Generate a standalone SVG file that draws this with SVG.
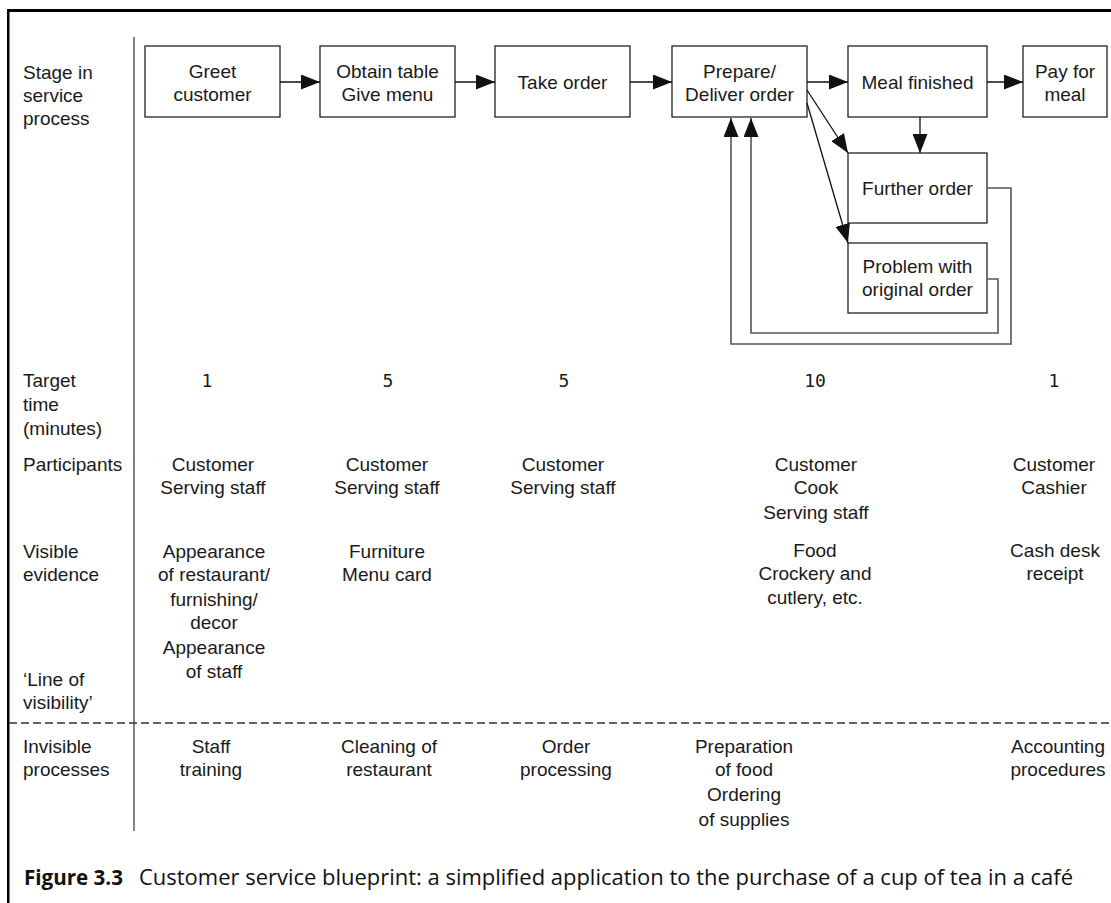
<svg xmlns="http://www.w3.org/2000/svg" width="1111" height="903" viewBox="0 0 1111 903">
  <defs>
    <marker id="head" markerUnits="userSpaceOnUse" markerWidth="19" markerHeight="15" refX="19" refY="7.5" orient="auto">
      <path d="M0,0 L19,7.5 L0,15 z" fill="#111"/>
    </marker>
  </defs>
  <style>
    .t{font-family:"Liberation Sans",Arial,sans-serif;font-size:19px;fill:#1a1a1a}
    .c{text-anchor:middle}
    .n{font-family:"DejaVu Sans Mono",monospace;font-size:18px;fill:#1a1a1a;text-anchor:middle}
    .box{fill:#fff;stroke:#222;stroke-width:1.3}
    .flow{fill:none;stroke:#111;stroke-width:1.3}
    .loop{fill:none;stroke:#555;stroke-width:1.6}
    .cap{font-family:"Open Sans","Noto Sans",sans-serif;font-size:22px;fill:#111}
  </style>

  <rect x="0" y="0" width="1111" height="903" fill="#fff"/>

  <!-- frame and rules -->
  <g id="frame">
    <rect x="7" y="9" width="1104" height="3" fill="#000"/>
    <rect x="7" y="9" width="2.5" height="894" fill="#000"/>
    <line x1="134" y1="37" x2="134" y2="831" stroke="#333" stroke-width="1.2"/>
    <line x1="9" y1="723" x2="1111" y2="723" stroke="#333" stroke-width="1.4" stroke-dasharray="8 4"/>
  </g>

  <!-- row headings -->
  <g id="row-labels" class="t">
    <text x="23" y="79">Stage in</text>
    <text x="23" y="102">service</text>
    <text x="23" y="125">process</text>
    <text x="23" y="387">Target</text>
    <text x="23" y="411">time</text>
    <text x="23" y="435">(minutes)</text>
    <text x="23" y="471">Participants</text>
    <text x="23" y="558">Visible</text>
    <text x="23" y="581">evidence</text>
    <text x="23" y="686">‘Line of</text>
    <text x="23" y="709">visibility’</text>
    <text x="23" y="753">Invisible</text>
    <text x="23" y="776">processes</text>
  </g>

  <!-- process stages -->
  <g id="greet">
    <rect class="box" x="145" y="46" width="135" height="71"/>
    <text class="t c" x="212.5" y="78">Greet</text>
    <text class="t c" x="212.5" y="101">customer</text>
  </g>
  <g id="obtain-table">
    <rect class="box" x="320" y="46" width="135" height="71"/>
    <text class="t c" x="387.5" y="78">Obtain table</text>
    <text class="t c" x="387.5" y="101">Give menu</text>
  </g>
  <g id="take-order">
    <rect class="box" x="495" y="46" width="135" height="71"/>
    <text class="t c" x="562.5" y="89">Take order</text>
  </g>
  <g id="prepare-deliver">
    <rect class="box" x="672" y="46" width="135" height="71"/>
    <text class="t c" x="739.5" y="78">Prepare/</text>
    <text class="t c" x="739.5" y="101">Deliver order</text>
  </g>
  <g id="meal-finished">
    <rect class="box" x="848" y="46" width="139" height="71"/>
    <text class="t c" x="917.5" y="89">Meal finished</text>
  </g>
  <g id="pay">
    <rect class="box" x="1023" y="46" width="84" height="71"/>
    <text class="t c" x="1065" y="78">Pay for</text>
    <text class="t c" x="1065" y="101">meal</text>
  </g>
  <g id="further-order">
    <rect class="box" x="848" y="153" width="139" height="70"/>
    <text class="t c" x="917.5" y="195">Further order</text>
  </g>
  <g id="problem">
    <rect class="box" x="848" y="243" width="139" height="70"/>
    <text class="t c" x="917.5" y="273">Problem with</text>
    <text class="t c" x="917.5" y="296">original order</text>
  </g>

  <!-- connectors -->
  <g id="connectors">
    <line class="flow" x1="280" y1="82" x2="320" y2="82" marker-end="url(#head)"/>
    <line class="flow" x1="455" y1="82" x2="495" y2="82" marker-end="url(#head)"/>
    <line class="flow" x1="630" y1="82" x2="672" y2="82" marker-end="url(#head)"/>
    <line class="flow" x1="807" y1="82" x2="848" y2="82" marker-end="url(#head)"/>
    <line class="flow" x1="987" y1="82" x2="1023" y2="82" marker-end="url(#head)"/>
    <line class="flow" x1="920" y1="117" x2="920" y2="153" marker-end="url(#head)"/>
    <line class="flow" stroke-width="1" x1="807" y1="90" x2="848" y2="153" marker-end="url(#head)"/>
    <line class="flow" stroke-width="1" x1="807" y1="103" x2="848" y2="243" marker-end="url(#head)"/>
    <polyline class="loop" points="987,188 1011,188 1011,344 731,344 731,118" marker-end="url(#head)"/>
    <polyline class="loop" points="987,279 998,279 998,333 751,333 751,118" marker-end="url(#head)"/>
  </g>

  <!-- target times -->
  <g id="target-times">
    <text class="n" x="207" y="387">1</text>
    <text class="n" x="388" y="387">5</text>
    <text class="n" x="564" y="387">5</text>
    <text class="n" x="815" y="387">10</text>
    <text class="n" x="1054" y="387">1</text>
  </g>

  <!-- participants -->
  <g id="participants" class="t c">
    <text x="213" y="471">Customer</text>
    <text x="213" y="494">Serving staff</text>
    <text x="387" y="471">Customer</text>
    <text x="387" y="494">Serving staff</text>
    <text x="563" y="471">Customer</text>
    <text x="563" y="494">Serving staff</text>
    <text x="816" y="471">Customer</text>
    <text x="816" y="494">Cook</text>
    <text x="816" y="519">Serving staff</text>
    <text x="1054" y="471">Customer</text>
    <text x="1054" y="494">Cashier</text>
  </g>

  <!-- visible evidence -->
  <g id="visible-evidence" class="t c">
    <text x="214" y="558">Appearance</text>
    <text x="214" y="581">of restaurant/</text>
    <text x="214" y="606">furnishing/</text>
    <text x="214" y="629">decor</text>
    <text x="214" y="654">Appearance</text>
    <text x="214" y="678">of staff</text>
    <text x="387" y="558">Furniture</text>
    <text x="387" y="581">Menu card</text>
    <text x="815" y="557">Food</text>
    <text x="815" y="580">Crockery and</text>
    <text x="815" y="604">cutlery, etc.</text>
    <text x="1055" y="557">Cash desk</text>
    <text x="1055" y="580">receipt</text>
  </g>

  <!-- invisible processes -->
  <g id="invisible-processes" class="t c">
    <text x="211" y="753">Staff</text>
    <text x="211" y="776">training</text>
    <text x="389" y="753">Cleaning of</text>
    <text x="389" y="776">restaurant</text>
    <text x="566" y="753">Order</text>
    <text x="566" y="776">processing</text>
    <text x="744" y="753">Preparation</text>
    <text x="744" y="776">of food</text>
    <text x="744" y="801">Ordering</text>
    <text x="744" y="826">of supplies</text>
    <text x="1058" y="753">Accounting</text>
    <text x="1058" y="776">procedures</text>
  </g>

  <!-- caption -->
  <g id="caption">
    <text class="cap" x="24" y="885" font-weight="bold" textLength="99" lengthAdjust="spacingAndGlyphs">Figure 3.3</text>
    <text class="cap" x="139" y="885" textLength="934" lengthAdjust="spacingAndGlyphs">Customer service blueprint: a simplified application to the purchase of a cup of tea in a café</text>
  </g>
</svg>
